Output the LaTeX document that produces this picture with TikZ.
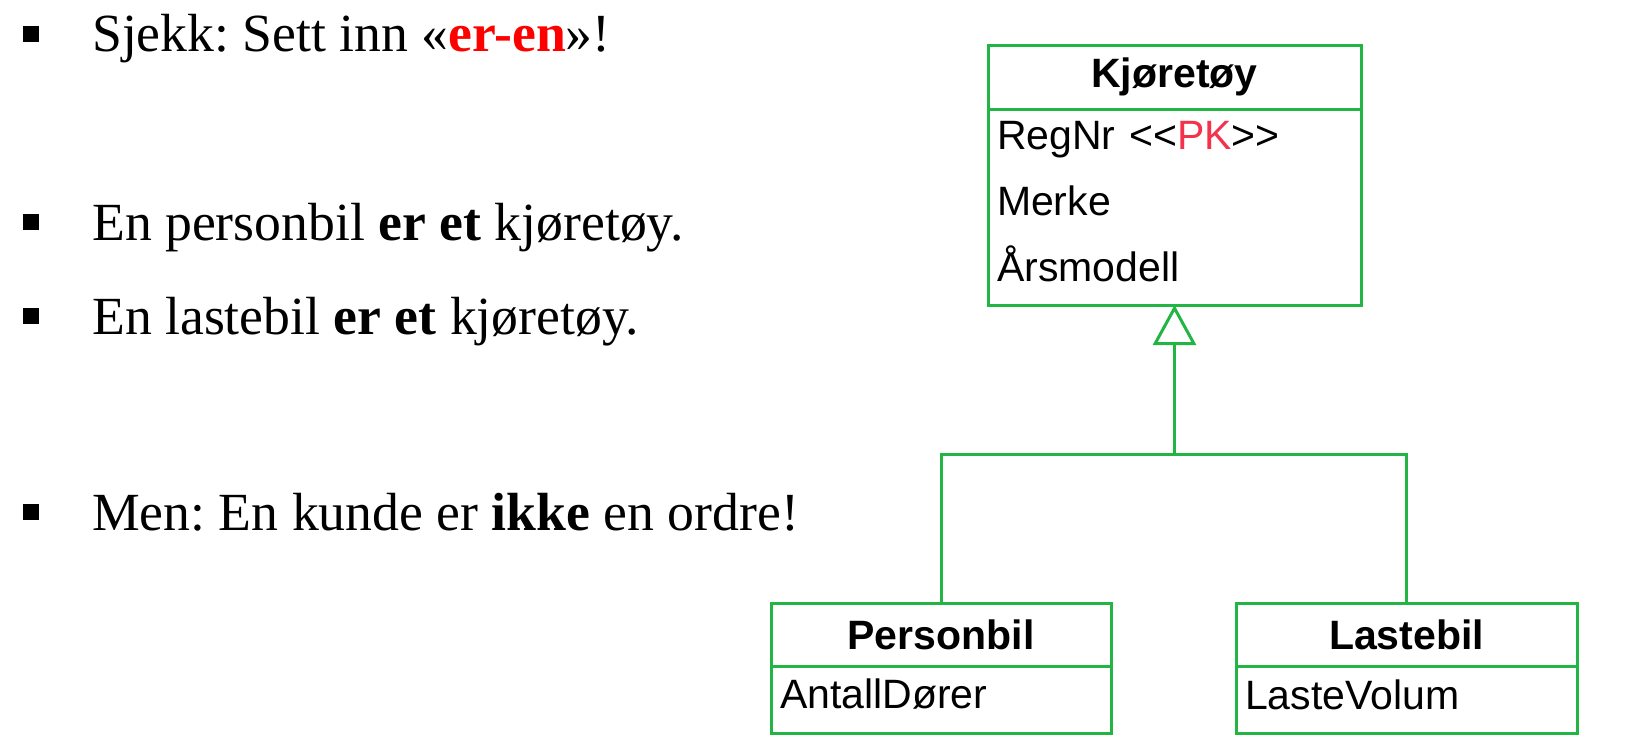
\documentclass[tikz,border=0pt]{standalone}
\usepackage{fontspec}
\setmainfont{Liberation Serif}
\newfontfamily\umlfont{Liberation Sans}
\usetikzlibrary{positioning,arrows.meta}
\definecolor{umlgreen}{HTML}{22B543}
\definecolor{pkred}{HTML}{F2334B}
\definecolor{erred}{HTML}{FF0000}
\frenchspacing

\tikzset{
  classhead/.style={draw=umlgreen,line width=3pt,outer sep=0pt,inner sep=0pt,
    font=\umlfont\bfseries\fontsize{41}{48}\selectfont},
  classbody/.style={draw=umlgreen,line width=3pt,outer sep=0pt,inner xsep=9pt,inner ysep=0pt,
    align=left,font=\umlfont\fontsize{41}{66}\selectfont,
    execute at end node={\par\vspace*{10pt}}},
  genline/.style={draw=umlgreen,line width=3pt},
  bullettext/.style={anchor=base west,inner sep=0pt,font=\fontsize{53.7}{60}\selectfont}
}

\begin{document}
\begin{tikzpicture}[x=1pt,y=-1pt]
  \useasboundingbox (0,0) rectangle (1638,748);
  % bullet list
  \foreach \y in {34,222,316,512}
    \fill (23,\y-8) rectangle ++(16,16);
  \node[bullettext] (chk) at (92,51) {Sjekk: Sett inn «\textcolor{erred}{\textbf{er-en}}»!};
  \node[bullettext] (pers) at (92,240) {En personbil \textbf{er et} kjøretøy.};
  \node[bullettext] (last) at (92,334) {En lastebil \textbf{er et} kjøretøy.};
  \node[bullettext] (kunde) at (92,530) {Men: En kunde er \textbf{ikke} en ordre!};

  % classes
  \node[classhead,minimum width=373pt,minimum height=64pt] (kjHead) at (1174.5,77) {Kjøretøy};
  \node[classbody,text width=355pt,minimum height=196pt,below=0pt of kjHead] (kjBody)
    {RegNr <{}<\textcolor{pkred}{PK}>{}>\\Merke\\Årsmodell};
  \node[classhead,minimum width=340pt,minimum height=63pt] (pbHead) at (941,634.5) {Personbil};
  \node[classbody,text width=322pt,minimum height=67pt,below=0pt of pbHead] (pbBody) {AntallDører};
  \node[classhead,minimum width=341pt,minimum height=63pt] (lbHead) at (1406.5,634.5) {Lastebil};
  \node[classbody,text width=323pt,minimum height=67pt,below=0pt of lbHead] (lbBody) {LasteVolum};

  % generalisation
  \coordinate (joint) at (1174.5,454);
  \draw[genline] (pbHead.north) |- (joint) -| (lbHead.north);
  \draw[genline,-{Triangle[open,length=40pt,width=43pt]}] (joint) -- (kjBody.south);
\end{tikzpicture}
\end{document}
